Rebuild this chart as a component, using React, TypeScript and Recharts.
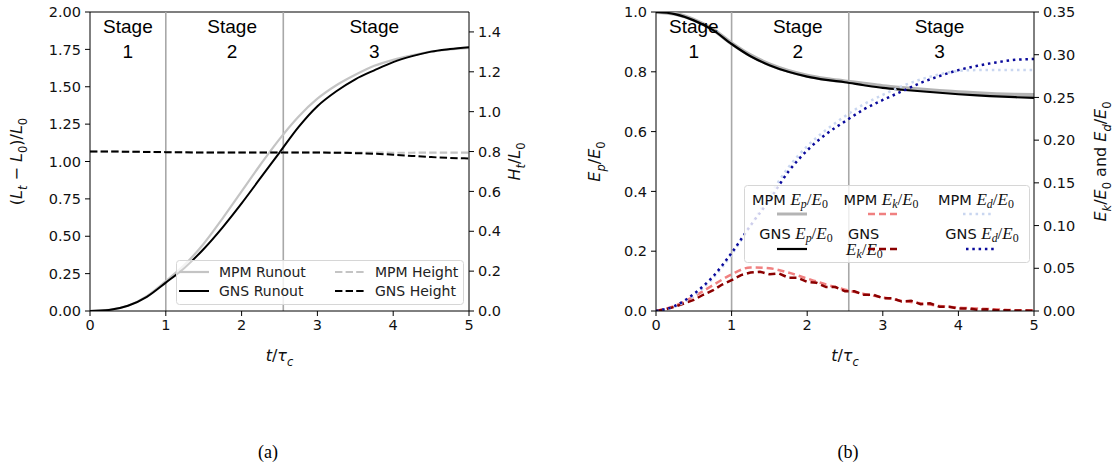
import React from 'react';
import { LineChart, Line, XAxis, YAxis, ReferenceLine, Legend } from 'recharts';

const T = [0, 0.25, 0.5, 0.75, 1, 1.25, 1.5, 1.75, 2, 2.25, 2.5, 2.75, 3, 3.25, 3.5, 3.75, 4, 4.25, 4.5, 4.75, 5];
const T_FINE = [
  0, 0.125, 0.25, 0.375, 0.5, 0.625, 0.75, 0.875, 1, 1.125, 1.25, 1.375, 1.5, 1.625, 1.75, 1.875, 2, 2.125, 2.25, 2.375,
  2.5, 2.625, 2.75, 2.875, 3, 3.125, 3.25, 3.375, 3.5, 3.625, 3.75, 3.875, 4, 4.125, 4.25, 4.375, 4.5, 4.625, 4.75, 4.875, 5,
];

// (a) runout (left axis) and height (right axis)
const MPM_RUNOUT = [0, 0.007, 0.035, 0.1, 0.2, 0.31, 0.45, 0.62, 0.8, 0.98, 1.15, 1.3, 1.42, 1.51, 1.58, 1.64, 1.68, 1.71, 1.735, 1.75, 1.76];
const GNS_RUNOUT = [0, 0.007, 0.035, 0.095, 0.19, 0.29, 0.415, 0.56, 0.72, 0.89, 1.06, 1.23, 1.37, 1.47, 1.55, 1.61, 1.665, 1.705, 1.735, 1.752, 1.765];
const MPM_HEIGHT = [0.8, 0.8, 0.799, 0.798, 0.797, 0.796, 0.795, 0.795, 0.795, 0.795, 0.795, 0.795, 0.795, 0.795, 0.795, 0.795, 0.794, 0.794, 0.795, 0.795, 0.795];
const GNS_HEIGHT = [0.8, 0.8, 0.799, 0.798, 0.797, 0.796, 0.795, 0.795, 0.795, 0.795, 0.795, 0.795, 0.795, 0.794, 0.792, 0.789, 0.784, 0.778, 0.772, 0.768, 0.765];

// (b) energies
const MPM_EP = [1.0, 0.994, 0.974, 0.942, 0.895, 0.855, 0.825, 0.803, 0.787, 0.776, 0.768, 0.76, 0.752, 0.746, 0.741, 0.736, 0.732, 0.728, 0.725, 0.723, 0.722];
const GNS_EP = [1.0, 0.993, 0.972, 0.94, 0.893, 0.852, 0.822, 0.8, 0.784, 0.773, 0.765, 0.755, 0.746, 0.74, 0.735, 0.73, 0.725, 0.721, 0.718, 0.715, 0.713];
const MPM_EK = [0, 0.006, 0.017, 0.03, 0.043, 0.051, 0.05, 0.045, 0.038, 0.031, 0.025, 0.02, 0.016, 0.012, 0.009, 0.006, 0.004, 0.003, 0.002, 0.001, 0.001];
const GNS_EK = [
  0, 0.002, 0.005, 0.009, 0.013, 0.019, 0.024, 0.031, 0.036, 0.042, 0.045, 0.046, 0.043, 0.044, 0.039, 0.039, 0.034, 0.033, 0.028, 0.028,
  0.023, 0.023, 0.019, 0.019, 0.015, 0.015, 0.011, 0.012, 0.008, 0.009, 0.005, 0.005, 0.003, 0.003, 0.0015, 0.002, 0.001, 0.001, 0.0005, 0.0006, 0.0004,
];
const MPM_ED = [0, 0.005, 0.018, 0.038, 0.066, 0.1, 0.135, 0.168, 0.193, 0.212, 0.228, 0.242, 0.253, 0.263, 0.271, 0.277, 0.281, 0.282, 0.282, 0.282, 0.282];
const GNS_ED = [0, 0.006, 0.02, 0.04, 0.068, 0.1, 0.13, 0.163, 0.188, 0.207, 0.222, 0.236, 0.247, 0.257, 0.267, 0.275, 0.282, 0.287, 0.291, 0.294, 0.295];

const X_TICKS = [0, 1, 2, 3, 4, 5];
const RUNOUT_TICKS = [0, 0.25, 0.5, 0.75, 1, 1.25, 1.5, 1.75, 2];
const HEIGHT_TICKS = [0, 0.2, 0.4, 0.6, 0.8, 1.0, 1.2, 1.4];
const EP_TICKS = [0, 0.2, 0.4, 0.6, 0.8, 1.0];
const EKD_TICKS = [0, 0.05, 0.1, 0.15, 0.2, 0.25, 0.3, 0.35];
const STAGE_LINES = [1, 2.55];
const STAGES = [
  { t: 0.5, n: '1' },
  { t: 1.875, n: '2' },
  { t: 3.75, n: '3' },
];

const leftRows = T.map((t, i) => ({
  t,
  mpmRunout: MPM_RUNOUT[i],
  gnsRunout: GNS_RUNOUT[i],
  mpmHeight: MPM_HEIGHT[i],
  gnsHeight: GNS_HEIGHT[i],
}));
const rightRows = T.map((t, i) => ({
  t,
  mpmEp: MPM_EP[i],
  gnsEp: GNS_EP[i],
  mpmEk: MPM_EK[i],
  mpmEd: MPM_ED[i],
  gnsEd: GNS_ED[i],
}));
const gnsEkRows = T_FINE.map((t, i) => ({ t, gnsEk: GNS_EK[i] }));

const FONT = '"DejaVu Sans", sans-serif';
const SERIF = '"Liberation Serif", serif';
const TXT = '#111';
const tickStyle = { fill: TXT, fontSize: 14.5, fontFamily: FONT };

type Part = { s: string; sub?: boolean; it?: boolean };

function MathText({ x, y, parts, size, rotate = 0, family = FONT }: { x: number; y: number; parts: Part[]; size: number; rotate?: number; family?: string }) {
  const shift = size * 0.3;
  let down = false;
  return (
    <text x={x} y={y} textAnchor="middle" fontFamily={family} fontSize={size} fill={TXT} transform={rotate ? `rotate(${rotate}, ${x}, ${y})` : undefined}>
      {parts.map((p, i) => {
        let dy = 0;
        if (p.sub && !down) { dy = shift; down = true; }
        else if (!p.sub && down) { dy = -shift; down = false; }
        return (
          <tspan key={i} dy={dy} fontSize={p.sub ? size * 0.72 : size} fontStyle={p.it ? 'italic' : 'normal'}>
            {p.s}
          </tspan>
        );
      })}
    </text>
  );
}

const T_TAU: Part[] = [{ s: 't', it: true }, { s: '/' }, { s: 'τ', it: true }, { s: 'c', sub: true, it: true }];

const stageLabel = (n: string) => (props: any) => {
  const vb = props.viewBox;
  return (
    <text x={vb.x} y={vb.y + 21} textAnchor="middle" fontFamily='"Liberation Sans", Arial, sans-serif' fontSize={19} fill="#000">
      <tspan x={vb.x}>Stage</tspan>
      <tspan x={vb.x} dy={25}>{n}</tspan>
    </text>
  );
};

const LEFT_SERIES = [
  { key: 'mpmRunout', name: 'MPM Runout', axis: 'L', color: '#c4c4c4', width: 2.2, dash: undefined as string | undefined },
  { key: 'gnsRunout', name: 'GNS Runout', axis: 'L', color: '#000000', width: 2, dash: undefined as string | undefined },
  { key: 'mpmHeight', name: 'MPM Height', axis: 'R', color: '#c4c4c4', width: 2.2, dash: '7.4 3.2' },
  { key: 'gnsHeight', name: 'GNS Height', axis: 'R', color: '#000000', width: 2, dash: '7.4 3.2' },
];

function LeftLegend() {
  const rows = [[LEFT_SERIES[0], LEFT_SERIES[2]], [LEFT_SERIES[1], LEFT_SERIES[3]]];
  return (
    <svg width={288} height={45}>
      <rect x={0.5} y={0.5} width={287} height={44} rx={3} fill="#fff" fillOpacity={0.8} stroke="#d6d6d6" />
      {rows.map((row, r) =>
        row.map((s, c) => {
          const x0 = c === 0 ? 3 : 159;
          const y = 12 + r * 19;
          return (
            <g key={s.key}>
              <line x1={x0} x2={x0 + 30} y1={y} y2={y} stroke={s.color} strokeWidth={s.width} strokeDasharray={s.dash} />
              <text x={x0 + 40} y={y + 5} fontFamily={FONT} fontSize={14} fill="#222">{s.name}</text>
            </g>
          );
        })
      )}
    </svg>
  );
}

const energy = (k: string): Part[] => [{ s: 'E', it: true }, { s: k, sub: true, it: true }, { s: '/' }, { s: 'E', it: true }, { s: '0', sub: true }];

const RIGHT_SERIES = [
  { key: 'mpmEp', model: 'MPM', k: 'p', axis: 'L', color: '#b4b4b4', width: 4, dash: undefined as string | undefined },
  { key: 'gnsEp', model: 'GNS', k: 'p', axis: 'L', color: '#000000', width: 2.2, dash: undefined as string | undefined },
  { key: 'mpmEk', model: 'MPM', k: 'k', axis: 'R', color: '#f08080', width: 2.5, dash: '7 4' },
  { key: 'gnsEk', model: 'GNS', k: 'k', axis: 'R', color: '#8b0000', width: 2.5, dash: '7 4' },
  { key: 'mpmEd', model: 'MPM', k: 'd', axis: 'R', color: '#c9d6f0', width: 2.5, dash: '2.5 3.8' },
  { key: 'gnsEd', model: 'GNS', k: 'd', axis: 'R', color: '#0b0b9c', width: 2.5, dash: '2.5 3.8' },
];

function EMath({ k, size = 17 }: { k: string; size?: number }) {
  const sub = size * 0.7;
  return (
    <>
      <tspan fontFamily={SERIF} fontStyle="italic" fontSize={size}>E</tspan>
      <tspan fontFamily={SERIF} fontStyle="italic" fontSize={sub} dy={3}>{k}</tspan>
      <tspan fontFamily={SERIF} fontSize={size} dy={-3}>/</tspan>
      <tspan fontFamily={SERIF} fontStyle="italic" fontSize={size}>E</tspan>
      <tspan fontFamily={SERIF} fontSize={sub} dy={3}>0</tspan>
    </>
  );
}

function RightLegend() {
  const centers = [46, 137, 232];
  return (
    <svg width={286} height={78}>
      <rect x={0.5} y={0.5} width={285} height={77} rx={3} fill="#fff" fillOpacity={0.8} stroke="#d6d6d6" />
      {[0, 1, 2].map((c) => {
        const mpm = RIGHT_SERIES[c * 2];
        const gns = RIGHT_SERIES[c * 2 + 1];
        const cx = centers[c];
        return (
          <g key={c}>
            <text x={cx} y={20} textAnchor="middle" fontFamily={FONT} fontSize={14.5} fill={TXT}>
              <tspan>MPM </tspan>
              <EMath k={mpm.k} />
            </text>
            <line x1={cx - 13} x2={cx + 17} y1={29} y2={29} stroke={mpm.color} strokeWidth={mpm.width === 4 ? 3 : mpm.width} strokeDasharray={mpm.dash} />
            {c === 1 ? (
              <>
                <text x={104} y={54} fontFamily={FONT} fontSize={14.5} fill={TXT}>GNS</text>
                <text x={102} y={70} fill={TXT}>
                  <EMath k="k" />
                </text>
              </>
            ) : (
              <text x={cx + 6} y={54} textAnchor="middle" fontFamily={FONT} fontSize={14.5} fill={TXT}>
                <tspan>GNS </tspan>
                <EMath k={gns.k} />
              </text>
            )}
            <line x1={cx - 13 + (c === 2 ? 3 : 0)} x2={cx + 17 + (c === 2 ? 3 : 0)} y1={64} y2={64} stroke={gns.color} strokeWidth={gns.width} strokeDasharray={gns.dash} />
          </g>
        );
      })}
    </svg>
  );
}

function RunoutChart() {
  return (
    <LineChart width={560} height={400} data={leftRows} margin={{ top: 12, right: 31, bottom: 59, left: 30 }}>
      <XAxis
        dataKey="t" type="number" domain={[0, 5]} ticks={X_TICKS} height={30} tickSize={5} tickMargin={4}
        stroke="#000" tick={tickStyle} allowDataOverflow
        label={(p: any) => <MathText x={p.viewBox.x + p.viewBox.width / 2} y={p.viewBox.y + 50} parts={T_TAU} size={16} />}
      />
      <YAxis
        yAxisId="L" domain={[0, 2]} ticks={RUNOUT_TICKS} width={60} tickSize={5} tickMargin={4} stroke="#000" tick={tickStyle}
        tickFormatter={(v: number) => v.toFixed(2)} allowDataOverflow
        label={(p: any) => (
          <MathText x={p.viewBox.x - 8} y={p.viewBox.y + p.viewBox.height / 2} rotate={-90} size={16}
            parts={[{ s: '(' }, { s: 'L', it: true }, { s: 't', sub: true, it: true }, { s: ' − ' }, { s: 'L', it: true }, { s: '0', sub: true }, { s: ')/' }, { s: 'L', it: true }, { s: '0', sub: true }]} />
        )}
      />
      <YAxis
        yAxisId="R" orientation="right" domain={[0, 1.5]} ticks={HEIGHT_TICKS} width={60} tickSize={5} tickMargin={4} stroke="#000" tick={tickStyle}
        tickFormatter={(v: number) => v.toFixed(1)} allowDataOverflow
        label={(p: any) => (
          <MathText x={p.viewBox.x + 51} y={p.viewBox.y + p.viewBox.height / 2} rotate={-90} size={16}
            parts={[{ s: 'H', it: true }, { s: 't', sub: true, it: true }, { s: '/' }, { s: 'L', it: true }, { s: '0', sub: true }]} />
        )}
      />
      <ReferenceLine yAxisId="L" y={2} stroke="#000" strokeWidth={1.2} />
      {STAGE_LINES.map((x) => (
        <ReferenceLine key={x} yAxisId="L" x={x} stroke="#a8a8a8" strokeWidth={1.6} />
      ))}
      {STAGES.map((s) => (
        <ReferenceLine key={s.n} yAxisId="L" x={s.t} stroke="none" label={stageLabel(s.n)} />
      ))}
      {LEFT_SERIES.map((s) => (
        <Line key={s.key} yAxisId={s.axis} dataKey={s.key} name={s.name} type="monotone" stroke={s.color} strokeWidth={s.width}
          strokeDasharray={s.dash} dot={false} activeDot={false} isAnimationActive={false} />
      ))}
      <Legend layout="horizontal" verticalAlign="middle" align="center" wrapperStyle={{ left: 176, top: 260, width: 288, height: 45 }} content={() => <LeftLegend />} />
    </LineChart>
  );
}

function EnergyChart() {
  return (
    <LineChart width={557} height={400} data={rightRows} margin={{ top: 12, right: 23, bottom: 59, left: 46 }}>
      <XAxis
        dataKey="t" type="number" domain={[0, 5]} ticks={X_TICKS} height={30} tickSize={5} tickMargin={4}
        stroke="#000" tick={tickStyle} allowDataOverflow
        label={(p: any) => <MathText x={p.viewBox.x + p.viewBox.width / 2} y={p.viewBox.y + 50} parts={T_TAU} size={16} />}
      />
      <YAxis
        yAxisId="L" domain={[0, 1]} ticks={EP_TICKS} width={50} tickSize={5} tickMargin={4} stroke="#000" tick={tickStyle}
        tickFormatter={(v: number) => v.toFixed(1)} allowDataOverflow
        label={(p: any) => (
          <MathText x={p.viewBox.x - 6} y={p.viewBox.y + p.viewBox.height / 2} rotate={-90} size={16} parts={energy('p')} />
        )}
      />
      <YAxis
        yAxisId="R" orientation="right" domain={[0, 0.35]} ticks={EKD_TICKS} width={60} tickSize={5} tickMargin={4} stroke="#000" tick={tickStyle}
        tickFormatter={(v: number) => v.toFixed(2)} allowDataOverflow
        label={(p: any) => (
          <MathText x={p.viewBox.x + 72} y={p.viewBox.y + p.viewBox.height / 2} rotate={-90} size={16}
            parts={[...energy('k'), { s: ' and ' }, ...energy('d')]} />
        )}
      />
      <ReferenceLine yAxisId="L" y={1} stroke="#000" strokeWidth={1.2} />
      {STAGE_LINES.map((x) => (
        <ReferenceLine key={x} yAxisId="L" x={x} stroke="#a8a8a8" strokeWidth={1.6} />
      ))}
      {RIGHT_SERIES.map((s) => (
        <Line key={s.key} yAxisId={s.axis} dataKey={s.key} data={s.key === 'gnsEk' ? gnsEkRows : undefined} name={s.key}
          type={s.key === 'gnsEk' ? 'linear' : 'monotone'} stroke={s.color} strokeWidth={s.width} strokeDasharray={s.dash}
          dot={false} activeDot={false} isAnimationActive={false} />
      ))}
      {STAGES.map((s) => (
        <ReferenceLine key={s.n} yAxisId="L" x={s.t} stroke="none" label={stageLabel(s.n)} />
      ))}
      <Legend layout="horizontal" verticalAlign="middle" align="center" wrapperStyle={{ left: 184, top: 185, width: 286, height: 78 }} content={() => <RightLegend />} />
    </LineChart>
  );
}

export default function App() {
  return (
    <div style={{ position: 'relative', width: 1117, height: 472, background: '#fff' }}>
      <style>{'body{margin:0;background:#fff}'}</style>
      <div style={{ position: 'absolute', left: 0, top: 0 }}>
        <RunoutChart />
      </div>
      <div style={{ position: 'absolute', left: 560, top: 0 }}>
        <EnergyChart />
      </div>
      <div style={{ position: 'absolute', left: 248, top: 442, width: 40, textAlign: 'center', fontFamily: SERIF, fontSize: 18 }}>(a)</div>
      <div style={{ position: 'absolute', left: 828, top: 442, width: 40, textAlign: 'center', fontFamily: SERIF, fontSize: 18 }}>(b)</div>
    </div>
  );
}
